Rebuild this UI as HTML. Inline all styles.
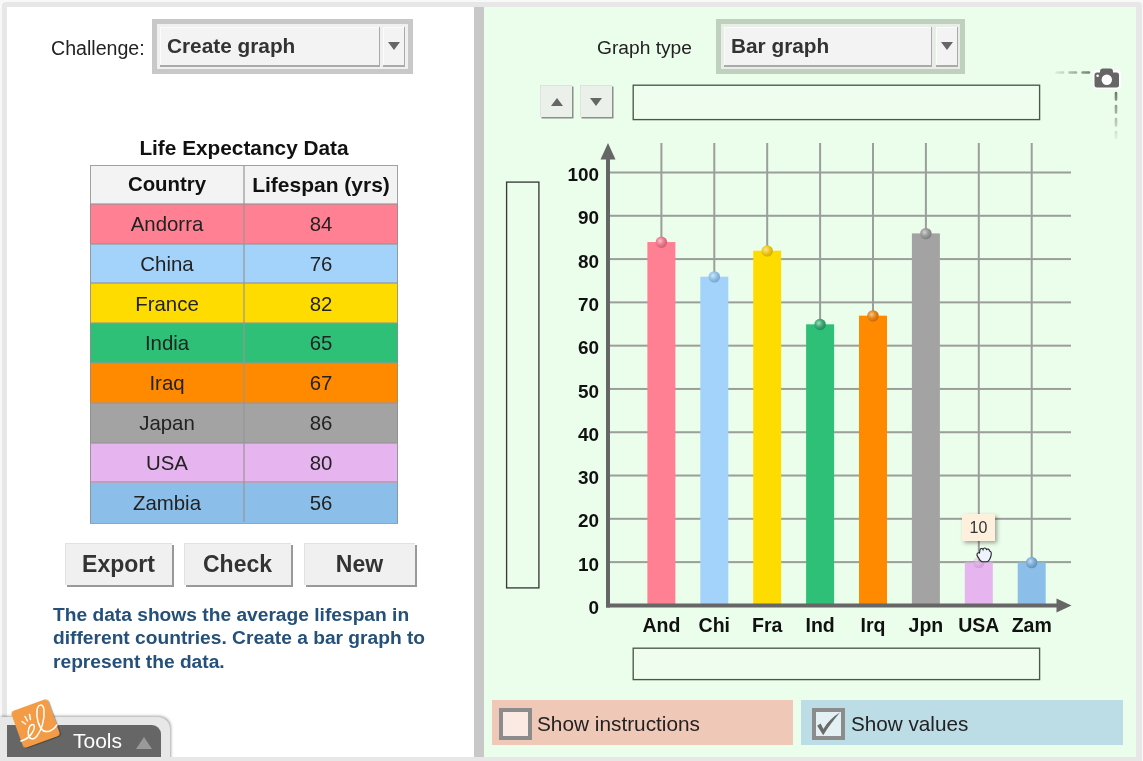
<!DOCTYPE html>
<html><head><meta charset="utf-8"><style>
html,body{margin:0;padding:0;}
body{width:1143px;height:761px;position:relative;overflow:hidden;background:#f7f8f7;font-family:"Liberation Sans", sans-serif;}
.a{position:absolute;will-change:transform;}
#frame{left:2px;top:2px;width:1140px;height:770px;background:#e7e7e7;border-radius:4px 4px 0 0;}
#left{left:7px;top:7px;width:467px;height:750px;background:#fff;}
#div{left:474px;top:7px;width:10px;height:750px;background:#c8c8c8;}
#right{left:484px;top:7px;width:652px;height:750px;background:#ebfdeb;}
.lbl{font-size:20px;color:#222;white-space:nowrap;}
.sel{background:#c8c8c8;}
.selface{background:#f3f3f3;box-shadow:inset -1px -2px 0 #aaa, inset 1px 1px 0 #fbfbfb;}
.selarrow{background:#f3f3f3;box-shadow:inset -1px -2px 0 #aaa, inset 1px 1px 0 #fbfbfb;}
.tri-d{width:0;height:0;border-left:6px solid transparent;border-right:6px solid transparent;border-top:8px solid #666;}
.tri-u{width:0;height:0;border-left:6px solid transparent;border-right:6px solid transparent;border-bottom:8px solid #666;}
.seltext{font-weight:bold;font-size:20.8px;color:#333;white-space:nowrap;}
table{border-collapse:collapse;}
#tbl{left:90px;top:165px;}
.th{height:39px;line-height:39px;text-align:center;font-weight:bold;font-size:20.4px;color:#111;white-space:nowrap;}
.td{height:39.8px;line-height:40px;text-align:center;font-size:20.4px;color:#222;white-space:nowrap;}
.btn{background:#f0f0f0;box-shadow:inset 1px 1px 0 #e2e2e2, 2px 2px 0 #999;font-weight:bold;font-size:23px;color:#333;text-align:center;line-height:42.5px;}
.yl{position:absolute;left:550px;width:49px;text-align:right;font-weight:bold;font-size:18.9px;line-height:22px;color:#111;}
.xl{position:absolute;top:613px;width:60px;text-align:center;font-weight:bold;font-size:19.5px;line-height:24px;color:#111;}
</style></head><body>
<div class="a" id="frame"></div>
<div class="a" id="left"></div>
<div class="a" id="div"></div>
<div class="a" id="right"></div>

<!-- Challenge -->
<div class="a lbl" style="left:51px;top:36px;line-height:24px;font-size:19.6px;">Challenge:</div>
<div class="a sel" style="left:152px;top:19px;width:261px;height:55px;"></div>
<div class="a" style="left:157px;top:24px;width:251px;height:45px;background:#f0f0f0;"></div>
<div class="a selface" style="left:160px;top:27px;width:220px;height:40px;"></div>
<div class="a seltext" style="left:167px;top:34px;line-height:24px;">Create graph</div>
<div class="a selarrow" style="left:383px;top:27px;width:22px;height:40px;"></div>
<div class="a tri-d" style="left:388px;top:42px;"></div>

<!-- Table -->
<div class="a" style="left:90px;top:136px;width:308px;text-align:center;font-weight:bold;font-size:20.8px;line-height:24px;color:#111;">Life Expectancy Data</div>
<div class="a" style="left:90px;top:165px;width:308px;height:39px;background:#f3f3f3;"></div>
<div class="a th" style="left:90px;top:165px;width:154px;">Country</div>
<div class="a th" style="left:244px;top:165px;width:154px;font-size:21px;">Lifespan (yrs)</div>
<div class="a" style="left:90px;top:204.0px;width:308px;height:40.3px;background:#ff8093;"></div>
<div class="a td" style="left:90px;top:204.0px;width:154px;">Andorra</div>
<div class="a td" style="left:244px;top:204.0px;width:154px;">84</div>
<div class="a" style="left:90px;top:243.8px;width:308px;height:40.3px;background:#a3d3fa;"></div>
<div class="a td" style="left:90px;top:243.8px;width:154px;">China</div>
<div class="a td" style="left:244px;top:243.8px;width:154px;">76</div>
<div class="a" style="left:90px;top:283.6px;width:308px;height:40.3px;background:#ffdc00;"></div>
<div class="a td" style="left:90px;top:283.6px;width:154px;">France</div>
<div class="a td" style="left:244px;top:283.6px;width:154px;">82</div>
<div class="a" style="left:90px;top:323.4px;width:308px;height:40.3px;background:#2ec077;"></div>
<div class="a td" style="left:90px;top:323.4px;width:154px;">India</div>
<div class="a td" style="left:244px;top:323.4px;width:154px;">65</div>
<div class="a" style="left:90px;top:363.2px;width:308px;height:40.3px;background:#ff8a00;"></div>
<div class="a td" style="left:90px;top:363.2px;width:154px;">Iraq</div>
<div class="a td" style="left:244px;top:363.2px;width:154px;">67</div>
<div class="a" style="left:90px;top:403.0px;width:308px;height:40.3px;background:#a3a3a3;"></div>
<div class="a td" style="left:90px;top:403.0px;width:154px;">Japan</div>
<div class="a td" style="left:244px;top:403.0px;width:154px;">86</div>
<div class="a" style="left:90px;top:442.8px;width:308px;height:40.3px;background:#e6b4ee;"></div>
<div class="a td" style="left:90px;top:442.8px;width:154px;">USA</div>
<div class="a td" style="left:244px;top:442.8px;width:154px;">80</div>
<div class="a" style="left:90px;top:482.6px;width:308px;height:40.3px;background:#8bbfea;"></div>
<div class="a td" style="left:90px;top:482.6px;width:154px;">Zambia</div>
<div class="a td" style="left:244px;top:482.6px;width:154px;">56</div>
<div class="a" style="left:90px;top:165px;width:306px;height:357px;border:1px solid rgba(140,140,140,0.8);"></div>
<div class="a" style="left:91px;top:202.8px;width:306px;height:2.4px;background:rgba(150,150,150,0.6);"></div>
<div class="a" style="left:91px;top:242.6px;width:306px;height:2.4px;background:rgba(150,150,150,0.6);"></div>
<div class="a" style="left:91px;top:282.4px;width:306px;height:2.4px;background:rgba(150,150,150,0.6);"></div>
<div class="a" style="left:91px;top:322.2px;width:306px;height:2.4px;background:rgba(150,150,150,0.6);"></div>
<div class="a" style="left:91px;top:362.0px;width:306px;height:2.4px;background:rgba(150,150,150,0.6);"></div>
<div class="a" style="left:91px;top:401.8px;width:306px;height:2.4px;background:rgba(150,150,150,0.6);"></div>
<div class="a" style="left:91px;top:441.6px;width:306px;height:2.4px;background:rgba(150,150,150,0.6);"></div>
<div class="a" style="left:91px;top:481.4px;width:306px;height:2.4px;background:rgba(150,150,150,0.6);"></div>
<div class="a" style="left:242.8px;top:166px;width:2.4px;height:356px;background:rgba(150,150,150,0.6);"></div>

<!-- buttons -->
<div class="a btn" style="left:65px;top:543px;width:107px;height:42px;">Export</div>
<div class="a btn" style="left:184px;top:543px;width:107px;height:42px;">Check</div>
<div class="a btn" style="left:304px;top:543px;width:111px;height:42px;">New</div>

<div class="a" style="left:53px;top:603px;width:400px;font-weight:bold;font-size:19.2px;line-height:23.4px;color:#24507a;">The data shows the average lifespan in<br>different countries. Create a bar graph to<br>represent the data.</div>

<!-- Tools -->
<div class="a" style="left:0px;top:717px;width:170px;height:50px;background:#e7e7e7;border-radius:0 12px 0 0;box-shadow:1px -1px 3px rgba(0,0,0,0.35);"></div>
<div class="a" style="left:7px;top:725px;width:154px;height:40px;background:#666;border-radius:0 9px 0 0;"></div>
<div class="a" style="left:73px;top:729px;font-size:21px;line-height:24px;color:#fff;">Tools</div>
<div class="a tri-u" style="left:136px;top:737px;border-left-width:8px;border-right-width:8px;border-bottom:12px solid #999;"></div>
<div class="a" style="left:15.5px;top:703.5px;width:39px;height:39px;background:#f39c45;border-radius:3.5px;transform:rotate(-20deg);box-shadow:1px 1px 1px rgba(0,0,0,0.35);"></div>
<svg class="a" style="left:0px;top:690px;" width="70" height="70" viewBox="0 690 70 70">
<path d="M21 741 C25 740 29 738 32 733 C35 729 35 724 32.5 724.5 C29 725 27.5 731 28.5 735 C29.5 740 34 740 37 736 C41 731 45 720 44 710 C43 703 38 704 37 710 C36 718 39 727 43 730.5 C47 733 53 731 57 725" fill="none" stroke="#fff" stroke-width="1.5" stroke-linecap="round"/>
<path d="M22 721.5 L25.5 724 M25 716.5 L27.5 721 M29.5 714.5 L30.5 719.5" stroke="#fff" stroke-width="1.5" stroke-linecap="round"/>
</svg>

<!-- bottom border overlay -->
<div class="a" style="left:2px;top:757px;width:1140px;height:4px;background:#e7e7e7;"></div>

<!-- Right panel -->
<div class="a lbl" style="left:597px;top:36px;font-size:19.2px;line-height:24px;">Graph type</div>
<div class="a" style="left:716px;top:19px;width:249px;height:55px;background:#bfd0bf;"></div>
<div class="a" style="left:721px;top:24px;width:239px;height:45px;background:#e6eee6;"></div>
<div class="a selface" style="left:724px;top:27px;width:208px;height:40px;"></div>
<div class="a seltext" style="left:731px;top:34px;line-height:24px;">Bar graph</div>
<div class="a selarrow" style="left:936px;top:27px;width:22px;height:40px;"></div>
<div class="a tri-d" style="left:941px;top:42px;"></div>

<!-- up/down -->
<div class="a" style="left:540px;top:85px;width:32px;height:32px;background:#ebf0eb;box-shadow:1.5px 1.5px 0 #8a8f8a, inset 1px 1px 0 #dde2dd;"></div>
<div class="a tri-u" style="left:551px;top:98px;"></div>
<div class="a" style="left:580px;top:85px;width:32px;height:32px;background:#ebf0eb;box-shadow:1.5px 1.5px 0 #8a8f8a, inset 1px 1px 0 #dde2dd;"></div>
<div class="a tri-d" style="left:590px;top:98px;"></div>

<svg class="a" style="left:0;top:0;" width="1143" height="761" viewBox="0 0 1143 761">
<rect x="633.2" y="85.2" width="406.4" height="34.4" fill="#effdef" stroke="#4a584a" stroke-width="1.35"/>
<rect x="633.2" y="648.2" width="406.4" height="31.4" fill="#effdef" stroke="#4a584a" stroke-width="1.35"/>
<rect x="506.6" y="182.1" width="32.3" height="405.8" fill="none" stroke="#3a3a3a" stroke-width="1.35"/>
</svg>
<!-- camera -->
<svg class="a" style="left:1050px;top:62px;" width="80" height="80" viewBox="1050 62 80 80">
<defs><linearGradient id="gh" gradientUnits="userSpaceOnUse" x1="1054" y1="0" x2="1092" y2="0"><stop offset="0" stop-color="#7c877c" stop-opacity="0.1"/><stop offset="1" stop-color="#6f7a6f" stop-opacity="1"/></linearGradient>
<linearGradient id="gv" gradientUnits="userSpaceOnUse" x1="0" y1="92" x2="0" y2="139"><stop offset="0" stop-color="#6f7a6f" stop-opacity="1"/><stop offset="1" stop-color="#7c877c" stop-opacity="0.1"/></linearGradient></defs>
<line x1="1056.5" y1="72.5" x2="1092" y2="72.5" stroke="url(#gh)" stroke-width="2.6" stroke-dasharray="6.5 6.5" stroke-linecap="round" stroke-dashoffset="0"/>
<line x1="1116" y1="93" x2="1116" y2="138" stroke="url(#gv)" stroke-width="2.6" stroke-dasharray="6.5 6.5" stroke-linecap="round"/>
<rect x="1093" y="70" width="28" height="19" rx="4" fill="#fff"/>
<rect x="1094.5" y="72.5" width="24.5" height="15" rx="2.5" fill="#666"/>
<rect x="1100" y="68.5" width="13" height="7" rx="3" fill="#666"/>
<circle cx="1106.8" cy="79.8" r="5.2" fill="#fff"/>
<circle cx="1097.6" cy="75.8" r="1.3" fill="#fff"/>
</svg>

<!-- chart -->
<svg class="a" style="left:0;top:0;" width="1143" height="761" viewBox="0 0 1143 761">
<defs><radialGradient id="ballg" cx="0.38" cy="0.38" r="0.65"><stop offset="0" stop-color="#fff" stop-opacity="0.6"/><stop offset="0.45" stop-color="#fff" stop-opacity="0.15"/><stop offset="1" stop-color="#000" stop-opacity="0.12"/></radialGradient></defs>
<rect x="610" y="561.11" width="461" height="2" fill="#9b9e9b"/>
<rect x="610" y="517.82" width="461" height="2" fill="#9b9e9b"/>
<rect x="610" y="474.53" width="461" height="2" fill="#9b9e9b"/>
<rect x="610" y="431.24" width="461" height="2" fill="#9b9e9b"/>
<rect x="610" y="387.95" width="461" height="2" fill="#9b9e9b"/>
<rect x="610" y="344.66" width="461" height="2" fill="#9b9e9b"/>
<rect x="610" y="301.37" width="461" height="2" fill="#9b9e9b"/>
<rect x="610" y="258.08" width="461" height="2" fill="#9b9e9b"/>
<rect x="610" y="214.79" width="461" height="2" fill="#9b9e9b"/>
<rect x="610" y="171.50" width="461" height="2" fill="#9b9e9b"/>
<rect x="660.40" y="143" width="2" height="462.40" fill="#9b9e9b"/>
<rect x="713.30" y="143" width="2" height="462.40" fill="#9b9e9b"/>
<rect x="766.20" y="143" width="2" height="462.40" fill="#9b9e9b"/>
<rect x="819.10" y="143" width="2" height="462.40" fill="#9b9e9b"/>
<rect x="872.00" y="143" width="2" height="462.40" fill="#9b9e9b"/>
<rect x="924.90" y="143" width="2" height="462.40" fill="#9b9e9b"/>
<rect x="977.80" y="143" width="2" height="462.40" fill="#9b9e9b"/>
<rect x="1030.70" y="143" width="2" height="462.40" fill="#9b9e9b"/>
<rect x="647.40" y="242.06" width="28" height="363.34" fill="#ff8093"/>
<rect x="700.30" y="276.70" width="28" height="328.70" fill="#a3d3fa"/>
<rect x="753.20" y="250.72" width="28" height="354.68" fill="#ffdc00"/>
<rect x="806.10" y="324.31" width="28" height="281.08" fill="#2ec077"/>
<rect x="859.00" y="315.66" width="28" height="289.74" fill="#ff8a00"/>
<rect x="911.90" y="233.41" width="28" height="371.99" fill="#a3a3a3"/>
<rect x="964.80" y="562.41" width="28" height="42.99" fill="#e6b4ee"/>
<rect x="1017.70" y="562.41" width="28" height="42.99" fill="#8bbfea"/>
<rect x="606" y="158" width="4" height="449.5" fill="#666"/>
<polygon points="608,143 600.5,159.5 615.5,159.5" fill="#666"/>
<rect x="606" y="603.5" width="452" height="4" fill="#666"/>
<polygon points="1071.5,605.5 1056.5,598.5 1056.5,612.5" fill="#666"/>
<g opacity="1"><circle cx="661.40" cy="242.26" r="5.7" fill="#ee6b82"/>
<circle cx="661.40" cy="242.26" r="5.7" fill="url(#ballg)"/></g>
<g opacity="1"><circle cx="714.30" cy="276.90" r="5.7" fill="#86bde8"/>
<circle cx="714.30" cy="276.90" r="5.7" fill="url(#ballg)"/></g>
<g opacity="1"><circle cx="767.20" cy="250.92" r="5.7" fill="#eec400"/>
<circle cx="767.20" cy="250.92" r="5.7" fill="url(#ballg)"/></g>
<g opacity="1"><circle cx="820.10" cy="324.51" r="5.7" fill="#22a062"/>
<circle cx="820.10" cy="324.51" r="5.7" fill="url(#ballg)"/></g>
<g opacity="1"><circle cx="873.00" cy="315.86" r="5.7" fill="#e67800"/>
<circle cx="873.00" cy="315.86" r="5.7" fill="url(#ballg)"/></g>
<g opacity="1"><circle cx="925.90" cy="233.61" r="5.7" fill="#8f8f8f"/>
<circle cx="925.90" cy="233.61" r="5.7" fill="url(#ballg)"/></g>
<g opacity="0.45"><circle cx="978.80" cy="562.61" r="5.7" fill="#d49bdc"/>
<circle cx="978.80" cy="562.61" r="5.7" fill="url(#ballg)"/></g>
<g opacity="1"><circle cx="1031.70" cy="562.61" r="5.7" fill="#6fa6d6"/>
<circle cx="1031.70" cy="562.61" r="5.7" fill="url(#ballg)"/></g>
</svg>
<div class="yl" style="top:597.0px">0</div><div class="yl" style="top:553.7px">10</div><div class="yl" style="top:510.4px">20</div><div class="yl" style="top:467.1px">30</div><div class="yl" style="top:423.8px">40</div><div class="yl" style="top:380.6px">50</div><div class="yl" style="top:337.3px">60</div><div class="yl" style="top:294.0px">70</div><div class="yl" style="top:250.7px">80</div><div class="yl" style="top:207.4px">90</div><div class="yl" style="top:164.1px">100</div>
<div class="xl" style="left:631.4px">And</div><div class="xl" style="left:684.3px">Chi</div><div class="xl" style="left:737.2px">Fra</div><div class="xl" style="left:790.1px">Ind</div><div class="xl" style="left:843.0px">Irq</div><div class="xl" style="left:895.9px">Jpn</div><div class="xl" style="left:948.8px">USA</div><div class="xl" style="left:1001.7px">Zam</div>

<!-- tooltip -->
<div class="a" style="left:962px;top:514px;width:33px;height:27px;background:#fdf0dc;box-shadow:2px 2px 4px rgba(0,0,0,0.35);font-size:16px;line-height:27px;text-align:center;color:#333;">10</div>
<svg class="a" style="left:974px;top:544px;" width="20" height="20" viewBox="0 0 20 20">
<path d="M4 13 C2 11 3 8 5.5 9 L6 6 C6 4 8.5 4 9 5.5 C9.5 3.5 12 3.5 12.5 5.5 C13.5 4.5 15.5 5 15.5 7 C17.5 7 17.5 9.5 17 12 C16 15 14.5 17.5 13 17.8 L8 17.8 C6 17 5 15 4 13 Z" fill="#eef3ff" stroke="#222" stroke-width="1.1"/>
</svg>

<!-- bottom controls -->
<div class="a" style="left:492px;top:700px;width:301px;height:45px;background:#f0c8b8;"></div>
<div class="a" style="left:499px;top:708px;width:25px;height:24px;border:4px solid #8c8c8c;background:#fbe9e3;"></div>
<div class="a lbl" style="left:537px;top:712px;font-size:20.8px;line-height:24px;">Show instructions</div>
<div class="a" style="left:801px;top:700px;width:322px;height:45px;background:#bcdce6;"></div>
<div class="a" style="left:812px;top:708px;width:25px;height:24px;border:4px solid #8c8c8c;background:#e3f1f4;"></div>
<svg class="a" style="left:812px;top:708px;" width="33" height="33" viewBox="0 0 33 33">
<path d="M5.2 17.8 L8.6 15.6 L11.4 21 C15.5 14 21 8.5 28 4.5 C22 11 16.5 19 11.2 27.2 Z" fill="#6b6b6b"/>
</svg>
<div class="a lbl" style="left:851px;top:712px;font-size:20.7px;line-height:24px;">Show values</div>
</body></html>
